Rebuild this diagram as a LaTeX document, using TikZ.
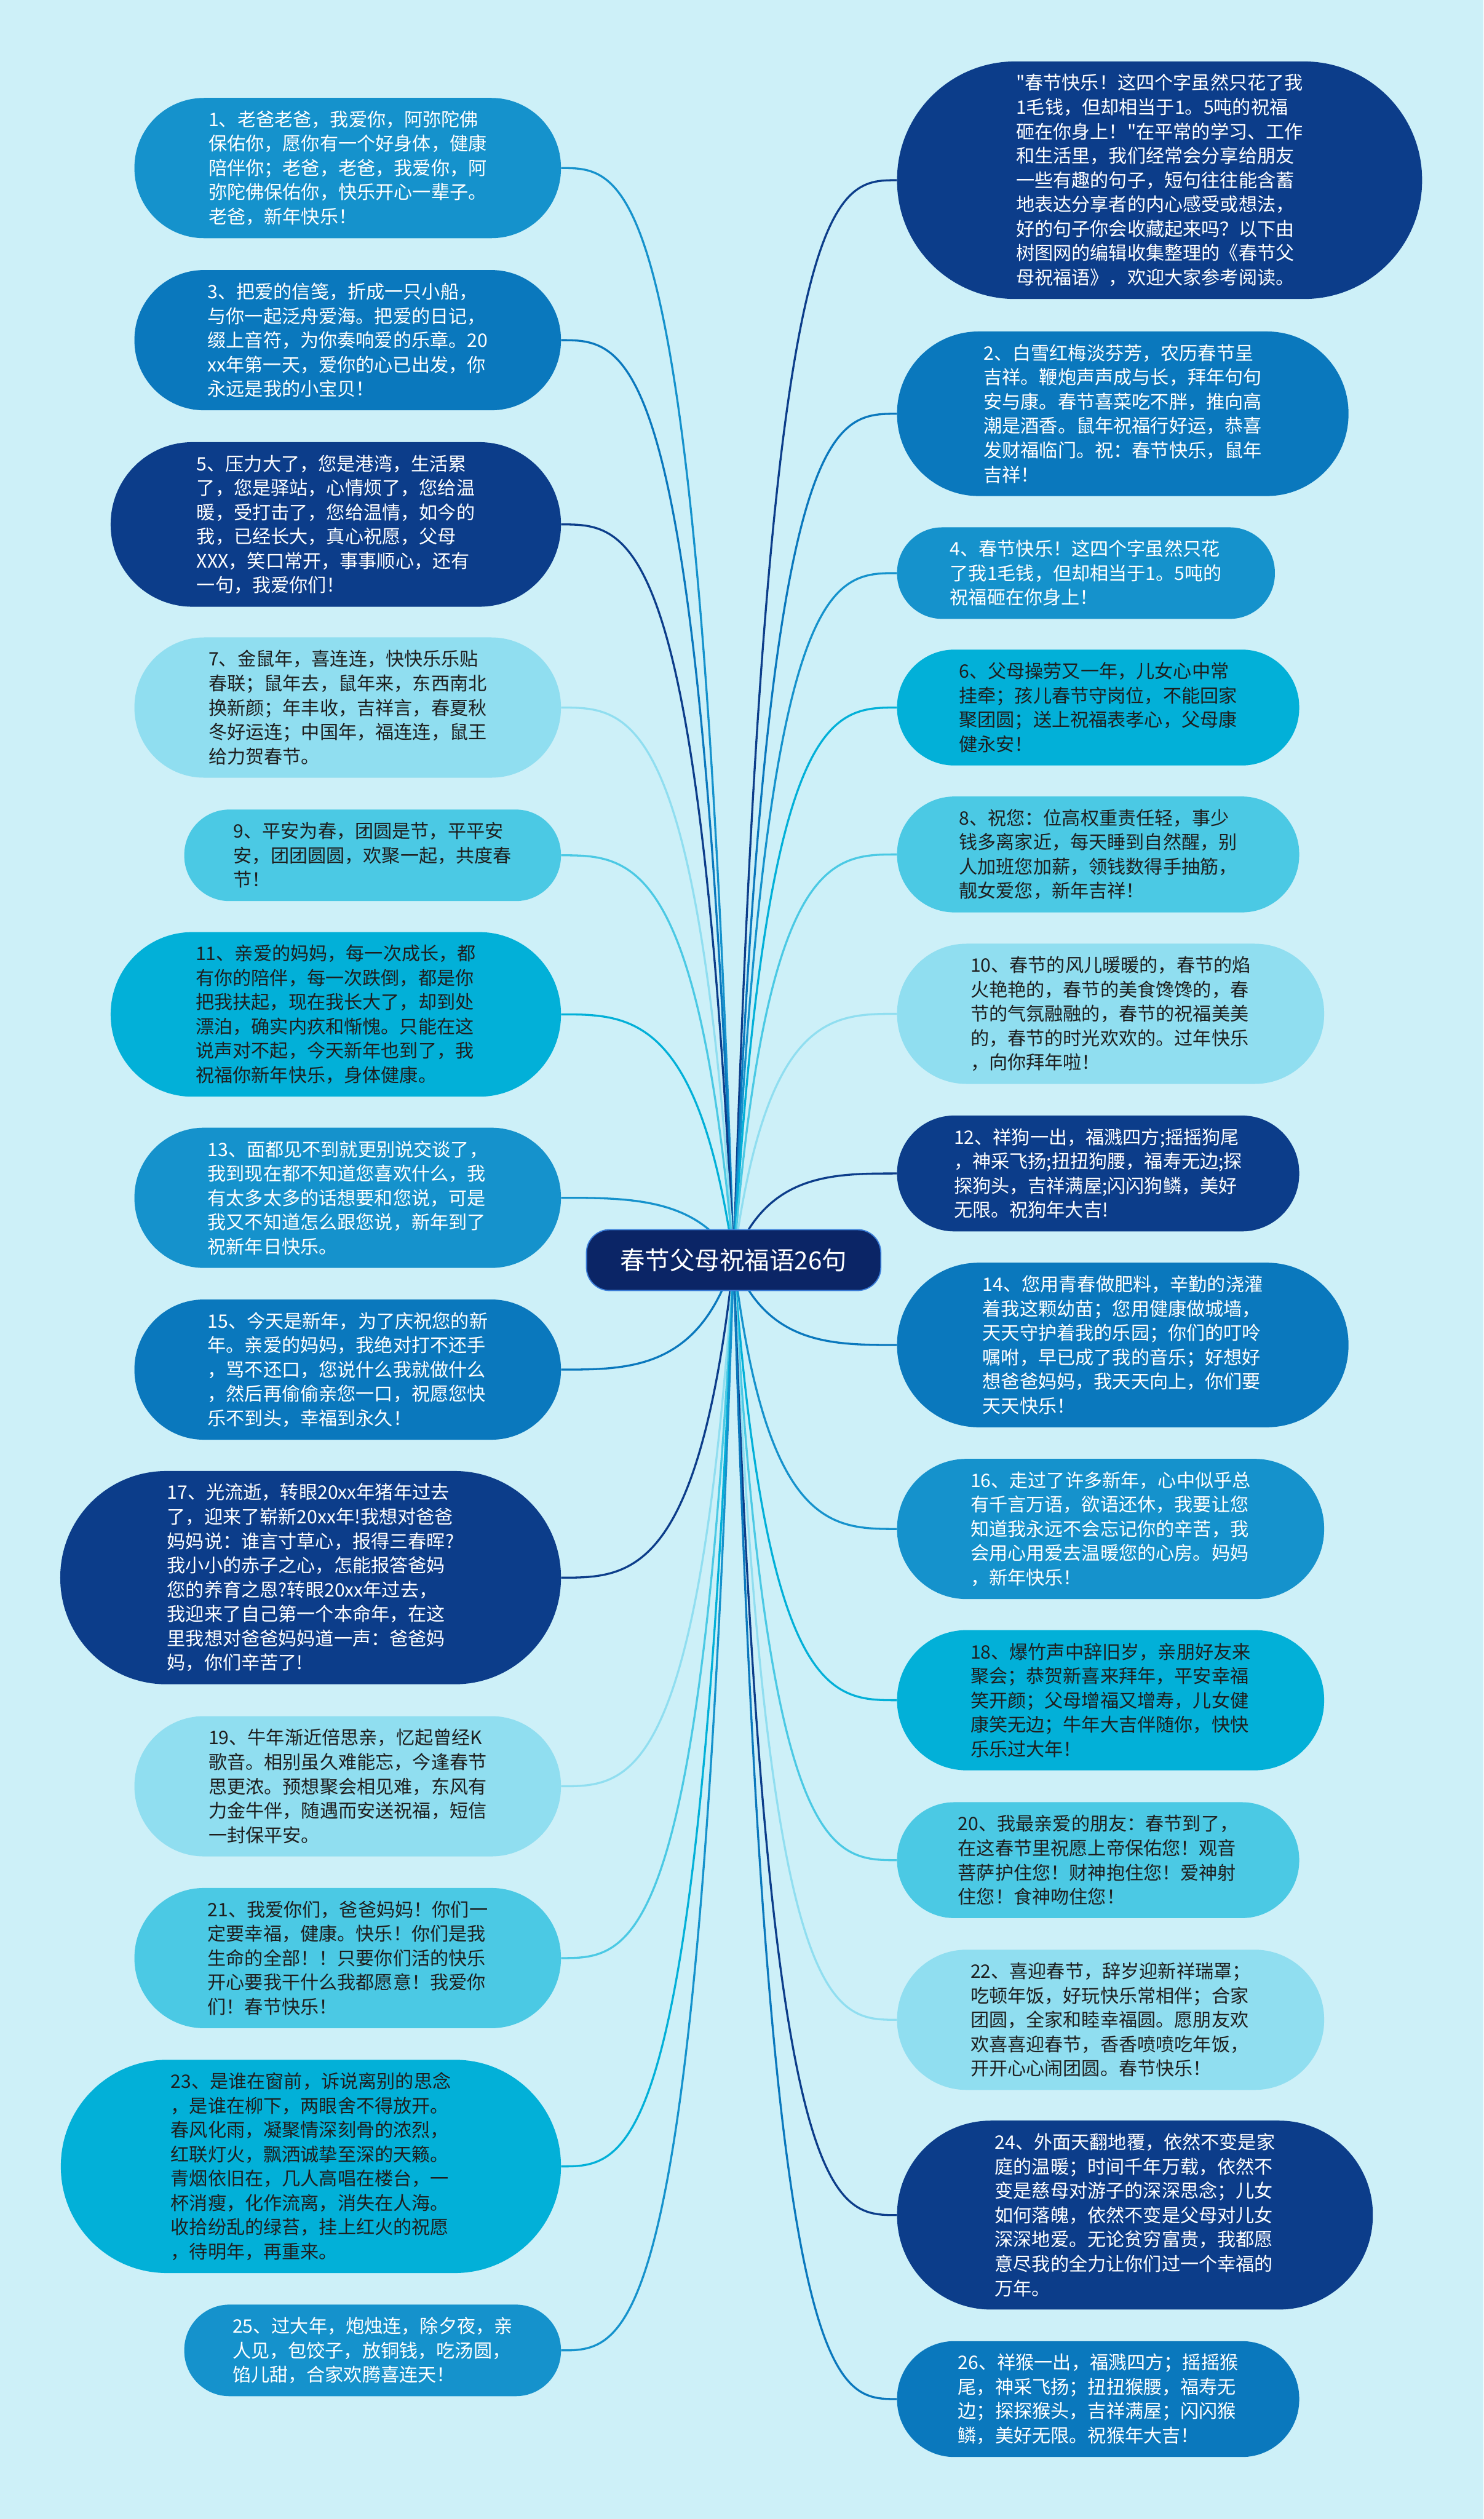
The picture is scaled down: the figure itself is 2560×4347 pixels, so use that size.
\documentclass[tikz,border=0pt]{standalone}
\usepackage{fontspec}
\setmainfont{Noto Sans CJK SC}
\newfontfamily\cjkfont{Noto Sans CJK SC}
\usetikzlibrary{calc,backgrounds}
\definecolor{bgc}{HTML}{CDF0F8}
\definecolor{navyc}{HTML}{0C3D8A}
\definecolor{blueb}{HTML}{0A78BD}
\definecolor{bluea}{HTML}{1592CC}
\definecolor{deepc}{HTML}{02B0D8}
\definecolor{cyanc}{HTML}{4BC9E4}
\definecolor{lightc}{HTML}{90DEF0}
\definecolor{darktxt}{HTML}{1E1E1E}
\definecolor{rootc}{HTML}{0B2566}
\definecolor{rootline}{HTML}{3B7DD8}
\tikzset{
  leaf/.style={draw=none, align=left, inner sep=0pt, font=\cjkfont\fontsize{32}{42}\selectfont},
  pill/.style 2 args={minimum width=#1pt, minimum height=#2pt, rounded corners={#2pt/2-1pt}},
  kNavy/.style={fill=navyc, text=white},
  kBlueB/.style={fill=blueb, text=white},
  kBlueA/.style={fill=bluea, text=white},
  kDeep/.style={fill=deepc, text=darktxt},
  kCyan/.style={fill=cyanc, text=darktxt},
  kLight/.style={fill=lightc, text=darktxt},
  conn/.style={line width=3.5pt},
  rootbox/.style={fill=rootc, draw=rootline, line width=2pt, text=white,
    font=\cjkfont\fontsize{43}{50}\selectfont, minimum width=508pt, minimum height=105pt,
    rounded corners=40pt, inner sep=0pt}
}
\newcommand\lk[2]{\draw[conn, draw=#2] let \p1=(root.center), \p2=(#1) in
  (\p1) .. controls ({\x1+0.2*(\x2-\x1)},\y2) and ({\x1+0.6*(\x2-\x1)},\y2) .. (\p2);}
\begin{document}
\begin{tikzpicture}[x=1pt, y=-1pt]
\useasboundingbox (0,0) rectangle (2560,4347);
% root
\node[rootbox] (root) at (1266,2174.5) {春节父母祝福语26句};
% left column
\node[leaf, kBlueA, pill={736}{242}] (L1) at (600,290) {1、老爸老爸，我爱你，阿弥陀佛\\保佑你，愿你有一个好身体，健康\\陪伴你；老爸，老爸，我爱你，阿\\弥陀佛保佑你，快乐开心一辈子。\\老爸，新年快乐！};
\node[leaf, kBlueB, pill={736}{242}] (L3) at (600,587) {3、把爱的信笺，折成一只小船，\\与你一起泛舟爱海。把爱的日记，\\缀上音符，为你奏响爱的乐章。20\\xx年第一天，爱你的心已出发，你\\永远是我的小宝贝！};
\node[leaf, kNavy, pill={777}{284}] (L5) at (579.5,905) {5、压力大了，您是港湾，生活累\\了，您是驿站，心情烦了，您给温\\暖，受打击了，您给温情，如今的\\我，已经长大，真心祝愿，父母\\XXX，笑口常开，事事顺心，还有\\一句，我爱你们！};
\node[leaf, kLight, pill={736}{242}] (L7) at (600,1221) {7、金鼠年，喜连连，快快乐乐贴\\春联；鼠年去，鼠年来，东西南北\\换新颜；年丰收，吉祥言，春夏秋\\冬好运连；中国年，福连连，鼠王\\给力贺春节。};
\node[leaf, kCyan, pill={650}{158}] (L9) at (643,1476) {9、平安为春，团圆是节，平平安\\安，团团圆圆，欢聚一起，共度春\\节！};
\node[leaf, kDeep, pill={777}{284}] (L11) at (579.5,1750.5) {11、亲爱的妈妈，每一次成长，都\\有你的陪伴，每一次跌倒，都是你\\把我扶起，现在我长大了，却到处\\漂泊，确实内疚和惭愧。只能在这\\说声对不起，今天新年也到了，我\\祝福你新年快乐，身体健康。};
\node[leaf, kBlueA, pill={736}{242}] (L13) at (600,2067) {13、面都见不到就更别说交谈了，\\我到现在都不知道您喜欢什么，我\\有太多太多的话想要和您说，可是\\我又不知道怎么跟您说，新年到了\\祝新年日快乐。};
\node[leaf, kBlueB, pill={736}{242}] (L15) at (600,2363.5) {15、今天是新年，为了庆祝您的新\\年。亲爱的妈妈，我绝对打不还手\\，骂不还口，您说什么我就做什么\\，然后再偷偷亲您一口，祝愿您快\\乐不到头，幸福到永久！};
\node[leaf, kNavy, pill={864}{368}] (L17) at (536,2722.5) {17、光流逝，转眼20xx年猪年过去\\了，迎来了崭新20xx年!我想对爸爸\\妈妈说：谁言寸草心，报得三春晖?\\我小小的赤子之心，怎能报答爸妈\\您的养育之恩?转眼20xx年过去，\\我迎来了自己第一个本命年，在这\\里我想对爸爸妈妈道一声：爸爸妈\\妈，你们辛苦了!};
\node[leaf, kLight, pill={736}{242}] (L19) at (600,3082.5) {19、牛年渐近倍思亲，忆起曾经K\\歌音。相别虽久难能忘，今逢春节\\思更浓。预想聚会相见难，东风有\\力金牛伴，随遇而安送祝福，短信\\一封保平安。};
\node[leaf, kCyan, pill={736}{242}] (L21) at (600,3379) {21、我爱你们，爸爸妈妈！你们一\\定要幸福，健康。快乐！你们是我\\生命的全部！！只要你们活的快乐\\开心要我干什么我都愿意！我爱你\\们！春节快乐！};
\node[leaf, kDeep, pill={863}{368}] (L23) at (536.5,3738.5) {23、是谁在窗前，诉说离别的思念\\，是谁在柳下，两眼舍不得放开。\\春风化雨，凝聚情深刻骨的浓烈，\\红联灯火，飘洒诚挚至深的天籁。\\青烟依旧在，几人高唱在楼台，一\\杯消瘦，化作流离，消失在人海。\\收拾纷乱的绿苔，挂上红火的祝愿\\，待明年，再重来。};
\node[leaf, kBlueA, pill={650}{158}] (L25) at (643,4056) {25、过大年，炮烛连，除夕夜，亲\\人见，包饺子，放铜钱，吃汤圆，\\馅儿甜，合家欢腾喜连天！};
% right column
\node[leaf, kNavy, pill={906}{410}] (R0) at (2001,311) {"春节快乐！这四个字虽然只花了我\\1毛钱，但却相当于1。5吨的祝福\\砸在你身上！"在平常的学习、工作\\和生活里，我们经常会分享给朋友\\一些有趣的句子，短句往往能含蓄\\地表达分享者的内心感受或想法，\\好的句子你会收藏起来吗？以下由\\树图网的编辑收集整理的《春节父\\母祝福语》，欢迎大家参考阅读。};
\node[leaf, kBlueB, pill={779}{284}] (R2) at (1937.5,714) {2、白雪红梅淡芬芳，农历春节呈\\吉祥。鞭炮声声成与长，拜年句句\\安与康。春节喜菜吃不胖，推向高\\潮是酒香。鼠年祝福行好运，恭喜\\发财福临门。祝：春节快乐，鼠年\\吉祥！};
\node[leaf, kBlueA, pill={652}{158}] (R4) at (1874,989) {4、春节快乐！这四个字虽然只花\\了我1毛钱，但却相当于1。5吨的\\祝福砸在你身上！};
\node[leaf, kDeep, pill={694}{200}] (R6) at (1895,1221) {6、父母操劳又一年，儿女心中常\\挂牵；孩儿春节守岗位，不能回家\\聚团圆；送上祝福表孝心，父母康\\健永安！};
\node[leaf, kCyan, pill={694}{200}] (R8) at (1895,1474.5) {8、祝您：位高权重责任轻，事少\\钱多离家近，每天睡到自然醒，别\\人加班您加薪，领钱数得手抽筋，\\靓女爱您，新年吉祥！};
\node[leaf, kLight, pill={737}{242}] (R10) at (1916.5,1749.5) {10、春节的风儿暖暖的，春节的焰\\火艳艳的，春节的美食馋馋的，春\\节的气氛融融的，春节的祝福美美\\的，春节的时光欢欢的。过年快乐\\，向你拜年啦！};
\node[leaf, kNavy, pill={694}{200}] (R12) at (1895,2025) {12、祥狗一出，福溅四方;摇摇狗尾\\，神采飞扬;扭扭狗腰，福寿无边;探\\探狗头，吉祥满屋;闪闪狗鳞，美好\\无限。祝狗年大吉!};
\node[leaf, kBlueB, pill={779}{284}] (R14) at (1937.5,2321) {14、您用青春做肥料，辛勤的浇灌\\着我这颗幼苗；您用健康做城墙，\\天天守护着我的乐园；你们的叮呤\\嘱咐，早已成了我的音乐；好想好\\想爸爸妈妈，我天天向上，你们要\\天天快乐！};
\node[leaf, kBlueA, pill={737}{242}] (R16) at (1916.5,2638.5) {16、走过了许多新年，心中似乎总\\有千言万语，欲语还休，我要让您\\知道我永远不会忘记你的辛苦，我\\会用心用爱去温暖您的心房。妈妈\\，新年快乐！};
\node[leaf, kDeep, pill={737}{242}] (R18) at (1916.5,2934) {18、爆竹声中辞旧岁，亲朋好友来\\聚会；恭贺新喜来拜年，平安幸福\\笑开颜；父母增福又增寿，儿女健\\康笑无边；牛年大吉伴随你，快快\\乐乐过大年！};
\node[leaf, kCyan, pill={694}{200}] (R20) at (1895,3210) {20、我最亲爱的朋友：春节到了，\\在这春节里祝愿上帝保佑您！观音\\菩萨护住您！财神抱住您！爱神射\\住您！食神吻住您！};
\node[leaf, kLight, pill={737}{242}] (R22) at (1916.5,3485.5) {22、喜迎春节，辞岁迎新祥瑞罩；\\吃顿年饭，好玩快乐常相伴；合家\\团圆，全家和睦幸福圆。愿朋友欢\\欢喜喜迎春节，香香喷喷吃年饭，\\开开心心闹团圆。春节快乐！};
\node[leaf, kNavy, pill={821}{326}] (R24) at (1958.5,3822.5) {24、外面天翻地覆，依然不变是家\\庭的温暖；时间千年万载，依然不\\变是慈母对游子的深深思念；儿女\\如何落魄，依然不变是父母对儿女\\深深地爱。无论贫穷富贵，我都愿\\意尽我的全力让你们过一个幸福的\\万年。};
\node[leaf, kBlueB, pill={694}{200}] (R26) at (1895,4140) {26、祥猴一出，福溅四方；摇摇猴\\尾，神采飞扬；扭扭猴腰，福寿无\\边；探探猴头，吉祥满屋；闪闪猴\\鳞，美好无限。祝猴年大吉！};
% background and connectors
\begin{scope}[on background layer]
\fill[bgc] (0,0) rectangle (2560,4347);
\lk{L1.east}{bluea}
\lk{L3.east}{blueb}
\lk{L5.east}{navyc}
\lk{L7.east}{lightc}
\lk{L9.east}{cyanc}
\lk{L11.east}{deepc}
\lk{L13.east}{bluea}
\lk{L15.east}{blueb}
\lk{L17.east}{navyc}
\lk{L19.east}{lightc}
\lk{L21.east}{cyanc}
\lk{L23.east}{deepc}
\lk{L25.east}{bluea}
\lk{R0.west}{navyc}
\lk{R2.west}{blueb}
\lk{R4.west}{bluea}
\lk{R6.west}{deepc}
\lk{R8.west}{cyanc}
\lk{R10.west}{lightc}
\lk{R12.west}{navyc}
\lk{R14.west}{blueb}
\lk{R16.west}{bluea}
\lk{R18.west}{deepc}
\lk{R20.west}{cyanc}
\lk{R22.west}{lightc}
\lk{R24.west}{navyc}
\lk{R26.west}{blueb}
\end{scope}
\end{tikzpicture}
\end{document}
